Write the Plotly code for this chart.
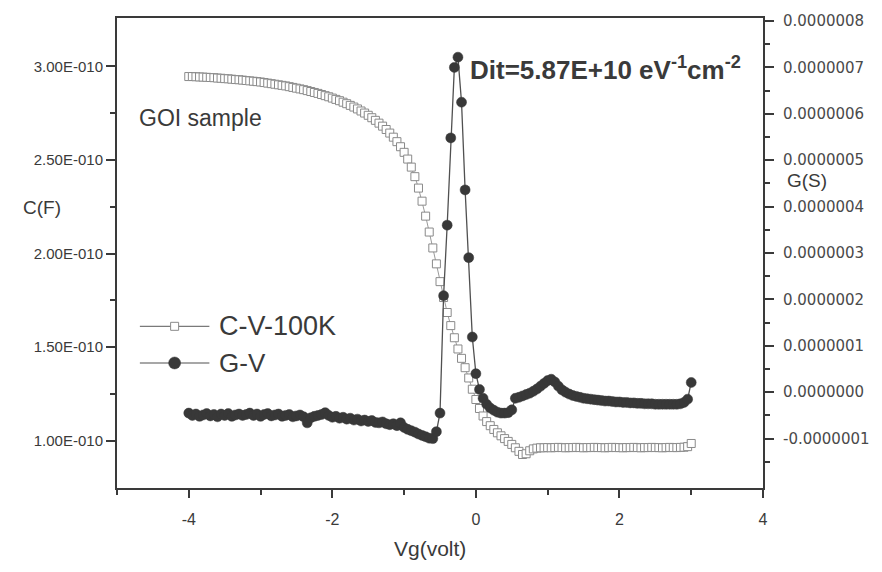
import plotly.graph_objects as go

# Gate voltage sweep (V), 0.05 V steps from -4 to 3
volts = [round(-4 + 0.05 * i, 2) for i in range(141)]

# Capacitance, units of 1E-010 F (C-V-100K)
cap_1e10 = [
    2.946, 2.946, 2.945, 2.944, 2.943, 2.942, 2.941, 2.940, 2.938, 2.937,
    2.935, 2.934, 2.932, 2.930, 2.929, 2.927, 2.925, 2.923, 2.921, 2.919,
    2.917, 2.914, 2.911, 2.908, 2.905, 2.902, 2.899, 2.896, 2.892, 2.888,
    2.884, 2.880, 2.876, 2.871, 2.866, 2.861, 2.856, 2.850, 2.844, 2.838,
    2.831, 2.824, 2.817, 2.809, 2.801, 2.792, 2.783, 2.773, 2.762, 2.751,
    2.739, 2.726, 2.712, 2.697, 2.681, 2.663, 2.644, 2.622, 2.598, 2.571,
    2.541, 2.505, 2.462, 2.411, 2.350, 2.280, 2.200, 2.115, 2.030, 1.945,
    1.850, 1.765, 1.685, 1.615, 1.550, 1.490, 1.440, 1.390, 1.335, 1.275,
    1.220, 1.172, 1.132, 1.102, 1.080, 1.060, 1.042, 1.026, 1.011, 0.996,
    0.980, 0.962, 0.943, 0.926, 0.930, 0.946, 0.956, 0.960, 0.962, 0.962,
    0.963, 0.962, 0.963, 0.964, 0.963, 0.962, 0.963, 0.963, 0.964, 0.963,
    0.962, 0.963, 0.963, 0.964, 0.963, 0.963, 0.962, 0.963, 0.964, 0.963,
    0.963, 0.962, 0.963, 0.963, 0.964, 0.963, 0.962, 0.963, 0.963, 0.964,
    0.963, 0.963, 0.962, 0.963, 0.964, 0.963, 0.963, 0.964, 0.965, 0.968,
    0.985,
]

# Conductance, units of 1E-007 S (G-V)
cond_1e7 = [
    -0.45, -0.50, -0.47, -0.52, -0.49, -0.46, -0.51, -0.48, -0.53, -0.47,
    -0.50, -0.46, -0.52, -0.49, -0.47, -0.50, -0.48, -0.45, -0.50, -0.47,
    -0.52, -0.48, -0.46, -0.51, -0.49, -0.47, -0.52, -0.50, -0.48, -0.53,
    -0.51, -0.49, -0.53, -0.66, -0.55, -0.52, -0.50, -0.48, -0.44, -0.50,
    -0.54, -0.52, -0.56, -0.54, -0.58, -0.56, -0.60, -0.58, -0.62, -0.60,
    -0.63, -0.61, -0.65, -0.66, -0.64, -0.68, -0.70, -0.68, -0.72, -0.66,
    -0.76, -0.80, -0.83, -0.86, -0.90, -0.93, -0.96, -0.99, -1.00, -0.85,
    -0.45, 2.08, 3.60, 5.48, 7.00, 7.22, 6.25, 4.36, 2.90, 1.19,
    0.40, 0.06, -0.13, -0.26, -0.34, -0.39, -0.43, -0.45, -0.45, -0.44,
    -0.38, -0.13, -0.11, -0.08, -0.05, -0.02, 0.02, 0.07, 0.13, 0.19,
    0.25, 0.28, 0.22, 0.13, 0.05, 0.00, -0.04, -0.07, -0.09, -0.11,
    -0.13, -0.14, -0.15, -0.16, -0.17, -0.18, -0.19, -0.19, -0.20, -0.21,
    -0.21, -0.22, -0.22, -0.23, -0.23, -0.24, -0.24, -0.25, -0.25, -0.25,
    -0.26, -0.26, -0.26, -0.26, -0.26, -0.26, -0.26, -0.25, -0.22, -0.15,
    0.21,
]

x_tickvals = [-4, -2, 0, 2, 4]
x_ticktext = ["-4", "-2", "0", "2", "4"]
c_tickvals = [1.0, 1.5, 2.0, 2.5, 3.0]
c_ticktext = ["1.00E-010", "1.50E-010", "2.00E-010", "2.50E-010", "3.00E-010"]
g_tickvals = [-1, 0, 1, 2, 3, 4, 5, 6, 7, 8]
g_ticktext = ["-0.0000001", "0.0000000", "0.0000001", "0.0000002", "0.0000003",
              "0.0000004", "0.0000005", "0.0000006", "0.0000007", "0.0000008"]

INK = "#3a3a3a"
FONT = "Liberation Sans, Arial, sans-serif"
FONT_R = "DejaVu Sans, Liberation Sans, sans-serif"

fig = go.Figure()
fig.add_trace(go.Scatter(
    x=volts, y=cap_1e10, name="C-V-100K", mode="lines+markers",
    line=dict(color="#9a9a9a", width=1),
    marker=dict(symbol="square", size=8, color="white",
                line=dict(color="#8a8a8a", width=1)),
    yaxis="y", showlegend=False,
))
fig.add_trace(go.Scatter(
    x=volts, y=cond_1e7, name="G-V", mode="lines+markers",
    line=dict(color="#505050", width=1.3),
    marker=dict(symbol="circle", size=10, color="#383838",
                line=dict(color="#383838", width=0.5)),
    yaxis="y2", showlegend=False,
))

axis_common = dict(showline=True, linecolor=INK, linewidth=2, ticks="outside",
                   tickcolor=INK, tickwidth=1.5, showgrid=False, zeroline=False)

fig.update_layout(
    width=882, height=572,
    margin=dict(l=117, r=115, t=12, b=84),
    paper_bgcolor="white", plot_bgcolor="white",
    font=dict(family=FONT, color=INK),
    xaxis=dict(range=[-5, 4], tickvals=x_tickvals, ticktext=x_ticktext, ticklen=8,
               mirror=True, ticklabelstandoff=8,
               tickfont=dict(family=FONT, size=16, color=INK),
               minor=dict(tickvals=[-5, -3, -1, 1, 3], ticklen=5, ticks="outside",
                          tickcolor=INK, tickwidth=1.5),
               **axis_common),
    yaxis=dict(range=[0.747, 3.259], tickvals=c_tickvals, ticktext=c_ticktext,
               ticklen=9, tickfont=dict(family=FONT, size=15, color=INK),
               minor=dict(tickvals=[1.25, 1.75, 2.25, 2.75], ticklen=5,
                          ticks="outside", tickcolor=INK, tickwidth=1.5),
               **axis_common),
    yaxis2=dict(range=[-2.064, 8.064], tickvals=g_tickvals, ticktext=g_ticktext,
                overlaying="y", side="right", ticklen=9, ticklabelstandoff=6,
                tickfont=dict(family=FONT_R, size=15, color="#4a4a4a"),
                minor=dict(tickvals=[-1.5, -0.5, 0.5, 1.5, 2.5, 3.5, 4.5, 5.5, 6.5, 7.5],
                           ticklen=5, ticks="outside", tickcolor=INK, tickwidth=1.5),
                **axis_common),
)

# axis titles and text labels
annos = [
    dict(text="C(F)", x=-0.1154, y=0.597, size=19, xanchor="center", fam=FONT),
    dict(text="G(S)", x=1.068, y=0.655, size=19, xanchor="center", fam=FONT),
    dict(text="Vg(volt)", x=0.4846, y=-0.1287, size=21, xanchor="center", fam=FONT),
    dict(text="GOI sample", x=0.0308, y=0.787, size=23, xanchor="left", fam=FONT),
    dict(text="<b>Dit=5.87E+10 eV<sup>-1</sup>cm<sup>-2</sup></b>", x=0.543, y=0.892,
         size=26, xanchor="left", fam=FONT),
    dict(text="C-V-100K", x=0.155, y=0.344, size=27, xanchor="left", fam=FONT),
    dict(text="G-V", x=0.155, y=0.266, size=26, xanchor="left", fam=FONT),
]
for a in annos:
    fig.add_annotation(text=a["text"], x=a["x"], y=a["y"], xref="paper", yref="paper",
                       xanchor=a["xanchor"], yanchor="middle", showarrow=False,
                       font=dict(family=a["fam"], size=a["size"], color=INK))

# custom legend samples
fig.add_shape(type="line", xref="paper", yref="paper", x0=0.0354, x1=0.143,
              y0=0.344, y1=0.344, line=dict(color="#7a7a7a", width=1.2))
fig.add_shape(type="rect", xref="paper", yref="paper", xsizemode="pixel",
              ysizemode="pixel", xanchor=0.0892, yanchor=0.344,
              x0=-4, x1=4, y0=-4, y1=4, fillcolor="white",
              line=dict(color="#8a8a8a", width=1))
fig.add_shape(type="line", xref="paper", yref="paper", x0=0.0354, x1=0.143,
              y0=0.266, y1=0.266, line=dict(color="#505050", width=1.2))
fig.add_shape(type="circle", xref="paper", yref="paper", xsizemode="pixel",
              ysizemode="pixel", xanchor=0.0892, yanchor=0.266,
              x0=-6, x1=6, y0=-6, y1=6, fillcolor="#383838",
              line=dict(color="#383838", width=0.5))

fig.write_html("out.html")
